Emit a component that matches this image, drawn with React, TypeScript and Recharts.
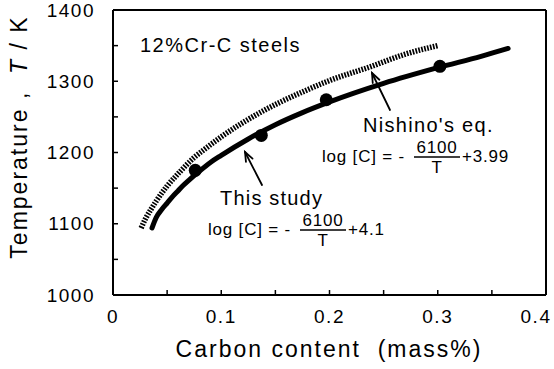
import React from 'react'
import { ComposedChart, Line, Scatter, XAxis, YAxis } from 'recharts'

// carbon solubility curves, 12%Cr-C steels
const studyCarbon = [0.036, 0.04, 0.045, 0.05, 0.055, 0.06, 0.065, 0.07, 0.08, 0.09, 0.1, 0.125, 0.15, 0.175, 0.2, 0.25, 0.3, 0.34, 0.365]
const studyTemp = [1094, 1109, 1120, 1129, 1138, 1146, 1154, 1161, 1174, 1186, 1196, 1219, 1239, 1256, 1271, 1297, 1319, 1335, 1346]

const nishinoCarbon = [0.026, 0.03, 0.035, 0.04, 0.05, 0.06, 0.075, 0.085, 0.1, 0.137, 0.175, 0.2, 0.237, 0.27, 0.3]
const nishinoTemp = [1094, 1107, 1120, 1132, 1153, 1170, 1193, 1205, 1222, 1257, 1285, 1301, 1320, 1338, 1350]

const measuredCarbon = [0.076, 0.137, 0.197, 0.302]
const measuredTemp = [1175, 1224, 1274, 1321]

const xTicks = [0, 0.05, 0.1, 0.15, 0.2, 0.25, 0.3, 0.35, 0.4]
const yTicks = [1000, 1050, 1100, 1150, 1200, 1250, 1300, 1350, 1400]

const zip = (c: number[], t: number[]) => c.map((v, i) => ({ c: v, t: t[i] }))

const studyData = zip(studyCarbon, studyTemp)
const nishinoData = zip(nishinoCarbon, nishinoTemp)
const measuredData = zip(measuredCarbon, measuredTemp)

const FONT = '"Liberation Sans", Arial, Helvetica, sans-serif'
const W = 554
const H = 369
const TICK = 5
const X_GAP = 15
const Y_GAP = 18

const xLabel = (v: number) => (Math.round(v * 100) % 10 === 0 ? String(v) : '')
const yLabel = (v: number) => (v % 100 === 0 ? String(v) : '')

// inward tick marks plus labels; the axis line sits tickMargin away from (x, y)
const BottomTick = ({ x, y, payload }: any) => {
  const axisY = y - X_GAP
  const label = xLabel(payload.value)
  return (
    <g>
      <line x1={x} x2={x} y1={axisY} y2={axisY - TICK} stroke="#000" strokeWidth={1.5} />
      {label && (
        <text
          x={Math.min(x, W - 18)}
          y={y}
          dy="0.71em"
          textAnchor="middle"
          fontFamily={FONT}
          fontSize={19}
          letterSpacing={1.5}
          fill="#000"
        >
          {label}
        </text>
      )}
    </g>
  )
}

const LeftTick = ({ x, y, payload }: any) => {
  const axisX = x + Y_GAP
  const label = yLabel(payload.value)
  return (
    <g>
      <line x1={axisX} x2={axisX + TICK} y1={y} y2={y} stroke="#000" strokeWidth={1.5} />
      {label && (
        <text
          x={x}
          y={y}
          dy="0.355em"
          textAnchor="end"
          fontFamily={FONT}
          fontSize={19}
          letterSpacing={1.5}
          fill="#000"
        >
          {label}
        </text>
      )}
    </g>
  )
}

const TopTick = ({ x, y }: any) => (
  <line x1={x} x2={x} y1={y} y2={y + TICK} stroke="#000" strokeWidth={1.5} />
)

const RightTick = ({ x, y }: any) => (
  <line x1={x} x2={x - TICK} y1={y} y2={y} stroke="#000" strokeWidth={1.5} />
)

function Arrow({ x1, y1, x2, y2 }: { x1: number; y1: number; x2: number; y2: number }) {
  const a = Math.atan2(y2 - y1, x2 - x1)
  const len = 10
  const spread = 0.38
  const p1 = [x2 - len * Math.cos(a - spread), y2 - len * Math.sin(a - spread)]
  const p2 = [x2 - len * Math.cos(a + spread), y2 - len * Math.sin(a + spread)]
  return (
    <g stroke="#000" strokeWidth={1.8} fill="none" strokeLinecap="round">
      <line x1={x1} y1={y1} x2={x2} y2={y2} />
      <polyline points={`${p1[0]},${p1[1]} ${x2},${y2} ${p2[0]},${p2[1]}`} />
    </g>
  )
}

// log[C] = -6100/T + k, drawn with a stacked fraction
function Equation({ x, y, k }: { x: number; y: number; k: string }) {
  const fs = 17
  const fracX = x + 92
  const fracW = 46
  return (
    <g fontFamily={FONT} fontSize={fs} fill="#000" letterSpacing={0.8}>
      <text x={x} y={y}>log [C] = -</text>
      <text x={fracX + fracW / 2} y={y - 9} textAnchor="middle">6100</text>
      <line x1={fracX} x2={fracX + fracW} y1={y - 5} y2={y - 5} stroke="#000" strokeWidth={1.5} />
      <text x={fracX + fracW / 2} y={y + 11} textAnchor="middle">T</text>
      <text x={fracX + fracW + 2} y={y}>+{k}</text>
    </g>
  )
}

function Annotations() {
  return (
    <svg
      width={W}
      height={H}
      style={{ position: 'absolute', left: 0, top: 0, pointerEvents: 'none' }}
    >
      <text x={140} y={52} fontFamily={FONT} fontSize={20} letterSpacing={1.5}>12%Cr-C steels</text>

      <Arrow x1={390} y1={110} x2={372} y2={73} />
      <text x={363} y={132} fontFamily={FONT} fontSize={20} letterSpacing={1.3}>Nishino's eq.</text>
      <Equation x={322} y={162} k="3.99" />

      <Arrow x1={262} y1={185} x2={245} y2={152} />
      <text x={220} y={205} fontFamily={FONT} fontSize={20} letterSpacing={1.2}>This study</text>
      <Equation x={208} y={235} k="4.1" />

      <text
        x={329}
        y={357}
        textAnchor="middle"
        fontFamily={FONT}
        fontSize={23}
        letterSpacing={2}
        style={{ whiteSpace: 'pre' }}
      >
        {'Carbon content  (mass%)'}
      </text>
      <text
        transform="translate(27,137) rotate(-90)"
        textAnchor="middle"
        fontFamily={FONT}
        fontSize={23}
        letterSpacing={2}
        style={{ whiteSpace: 'pre' }}
      >
        {'Temperature ,  '}
        <tspan fontStyle="italic">T</tspan>
        {' / K'}
      </text>
    </svg>
  )
}

const Dot = (props: any) => <circle cx={props.cx} cy={props.cy} r={6.5} fill="#000" />

const frame = { stroke: '#000', strokeWidth: 2 }

export default function App() {
  return (
    <div style={{ position: 'absolute', left: 0, top: 0, width: W, height: H, background: '#fff' }}>
      <ComposedChart width={W} height={H} margin={{ top: 9, right: 7, bottom: 44, left: 53 }}>
        <XAxis
          xAxisId="b"
          dataKey="c"
          type="number"
          domain={[0, 0.4]}
          ticks={xTicks}
          height={30}
          tickSize={0}
          tickMargin={X_GAP}
          tick={BottomTick}
          tickLine={false}
          axisLine={frame}
          interval={0}
        />
        <XAxis
          xAxisId="t"
          orientation="top"
          type="number"
          domain={[0, 0.4]}
          ticks={xTicks}
          height={1}
          tickSize={0}
          tickMargin={0}
          tick={TopTick}
          tickLine={false}
          axisLine={frame}
          interval={0}
        />
        <YAxis
          yAxisId="l"
          dataKey="t"
          type="number"
          domain={[1000, 1400]}
          ticks={yTicks}
          width={60}
          tickSize={0}
          tickMargin={Y_GAP}
          tick={LeftTick}
          tickLine={false}
          axisLine={frame}
          interval={0}
        />
        <YAxis
          yAxisId="r"
          orientation="right"
          type="number"
          domain={[1000, 1400]}
          ticks={yTicks}
          width={1}
          tickSize={0}
          tickMargin={0}
          tick={RightTick}
          tickLine={false}
          axisLine={frame}
          interval={0}
        />
        {/* hatched band for Nishino's equation */}
        <Line
          xAxisId="b"
          yAxisId="l"
          data={nishinoData}
          dataKey="t"
          type="monotone"
          stroke="#000"
          strokeWidth={5.5}
          strokeDasharray="1.7 1.3"
          dot={false}
          activeDot={false}
          isAnimationActive={false}
        />
        <Line
          xAxisId="b"
          yAxisId="l"
          data={studyData}
          dataKey="t"
          type="monotone"
          stroke="#000"
          strokeWidth={5}
          strokeLinecap="round"
          dot={false}
          activeDot={false}
          isAnimationActive={false}
        />
        <Scatter
          xAxisId="b"
          yAxisId="l"
          data={measuredData}
          dataKey="t"
          shape={Dot}
          isAnimationActive={false}
        />
      </ComposedChart>
      <Annotations />
    </div>
  )
}
